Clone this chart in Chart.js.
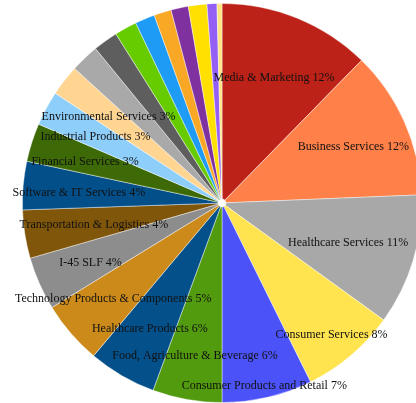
<!DOCTYPE html>
<html>
<head>
<meta charset="utf-8">
<script src="https://cdn.jsdelivr.net/npm/chart.js@4.4.1/dist/chart.umd.min.js"></script>
<style>
  html, body { margin: 0; padding: 0; background: #ffffff; width: 416px; height: 403px; overflow: hidden; }
  #wrap { position: absolute; left: 0; top: 3px; width: 444px; height: 400px; }
</style>
</head>
<body>
<div id="wrap"><canvas id="c"></canvas></div>
<script>
// Categories (clockwise from 12 o'clock); unlabeled slivers have empty names
const categories = [
  "Media & Marketing", "Business Services", "Healthcare Services", "Consumer Services",
  "Consumer Products and Retail", "Food, Agriculture & Beverage", "Healthcare Products",
  "Technology Products & Components", "I-45 SLF", "Transportation & Logistics",
  "Software & IT Services", "Financial Services", "Industrial Products", "Environmental Services",
  "", "", "", "", "", "", "", "", ""
];
// Share of portfolio (%)
const values = [
  12.3, 12.0, 10.6, 7.7,
  7.3, 5.6, 5.5,
  5.1, 4.3, 3.9,
  3.9, 3.1, 2.8, 2.5,
  2.3, 2.0, 1.8, 1.6, 1.4, 1.4, 1.5, 0.8, 0.4
];
const colors = [
  "#bd2218", "#ff8049", "#a8a8a8", "#ffe34f",
  "#4b52f7", "#529a0e", "#03508a",
  "#cc8a1a", "#8d8d8d", "#80560a",
  "#034f8a", "#3d6a06", "#8ecefb", "#ffd591",
  "#a9a9a9", "#5e5e5e", "#66cc00", "#1e9bf5", "#f9a825", "#7f31a0", "#ffe000", "#935ff5", "#ffe680"
];

const labelPlugin = {
  id: 'sliceLabels',
  afterDatasetsDraw(chart, args, opts) {
    const ctx = chart.ctx;
    const meta = chart.getDatasetMeta(0);
    const data = chart.data.datasets[0].data;
    const total = data.reduce((a, b) => a + b, 0);
    ctx.save();
    ctx.font = opts.font;
    ctx.fillStyle = opts.color;
    ctx.textAlign = 'center';
    ctx.textBaseline = 'middle';
    meta.data.forEach((arc, i) => {
      const name = chart.data.labels[i];
      if (!name) return;
      const p = arc.getProps(['x', 'y', 'startAngle', 'endAngle', 'outerRadius'], true);
      const mid = (p.startAngle + p.endAngle) / 2;
      const f = (opts.radial && opts.radial[i]) || opts.defaultRadial;
      const r = p.outerRadius * f;
      const pct = Math.round(data[i] / total * 100);
      ctx.fillText(name + ' ' + pct + '%', p.x + Math.cos(mid) * r, p.y + Math.sin(mid) * r + opts.dy);
    });
    ctx.restore();
  }
};

new Chart(document.getElementById('c'), {
  type: 'doughnut',
  data: {
    labels: categories,
    datasets: [{
      data: values,
      backgroundColor: colors,
      borderColor: 'rgba(255,255,255,0.55)',
      borderWidth: 0.8
    }]
  },
  options: {
    responsive: true,
    maintainAspectRatio: false,
    devicePixelRatio: 1,
    animation: false,
    cutout: 4,
    layout: { padding: 0 },
    plugins: {
      legend: { display: false },
      tooltip: { enabled: false },
      sliceLabels: {
        font: '12px "Liberation Serif", "Times New Roman", serif',
        color: '#111111',
        defaultRadial: 0.72,
        dy: 2,
        radial: { 0: 0.69, 2: 0.66, 3: 0.85, 4: 0.93, 5: 0.77, 9: 0.65 }
      }
    }
  },
  plugins: [labelPlugin]
});
</script>
</body>
</html>
